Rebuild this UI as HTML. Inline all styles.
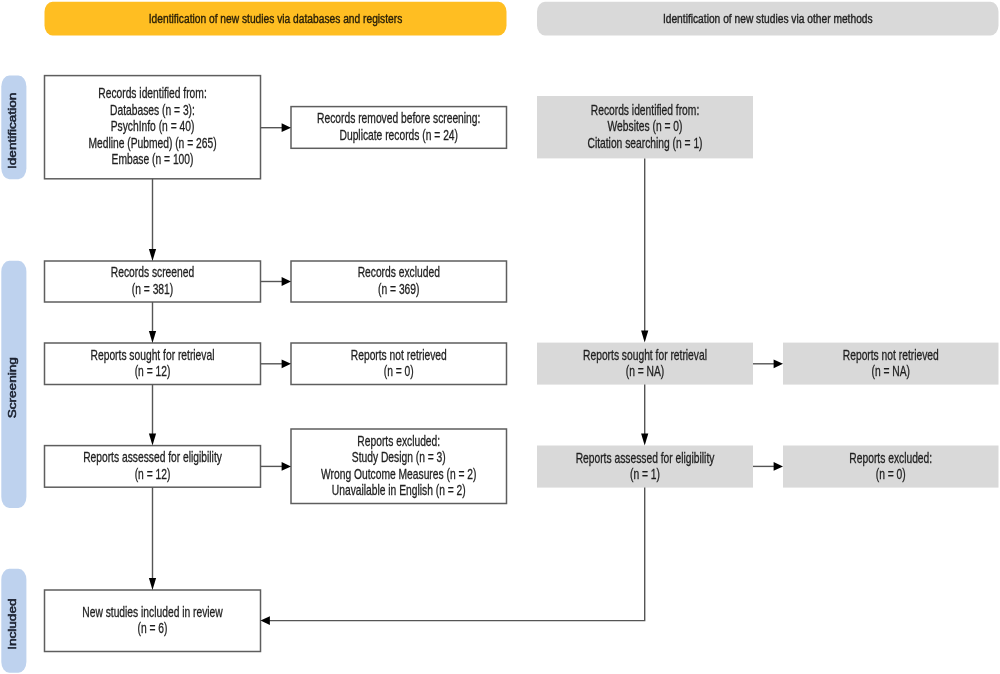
<!DOCTYPE html>
<html><head><meta charset="utf-8"><style>
html,body{margin:0;padding:0;background:#fff;width:1000px;height:674px;overflow:hidden}
svg{display:block;font-family:"Liberation Sans",sans-serif;will-change:transform}
</style></head><body>
<svg width="1000" height="674" viewBox="0 0 1000 674">
<rect x="44.5" y="1.8" width="462" height="33.7" rx="8" ry="10" fill="#ffbe22"/>
<rect x="537" y="1.8" width="461.5" height="33.7" rx="8" ry="10" fill="#d9d9d9"/>
<text transform="matrix(0.758,0,0,1,275.5,22.9)" x="0" y="0" text-anchor="middle" font-size="13.5" fill="#2a2008" font-weight="normal" stroke="#2a2008" stroke-width="0.4">Identification of new studies via databases and registers</text>
<text transform="matrix(0.758,0,0,1,767.75,22.9)" x="0" y="0" text-anchor="middle" font-size="13.5" fill="#1f1f1f" font-weight="normal" stroke="#1f1f1f" stroke-width="0.4">Identification of new studies via other methods</text>
<rect x="1.3" y="75.6" width="25.1" height="103.70000000000002" rx="8" ry="11" fill="#bed2ee"/>
<text transform="translate(16.0,130.85) rotate(-90) scale(1,0.75)" x="0" y="0" text-anchor="middle" font-size="13.6" fill="#1c2230" stroke="#1c2230" stroke-width="0.7">Identification</text>
<rect x="1.3" y="260.7" width="25.1" height="247.3" rx="8" ry="11" fill="#bed2ee"/>
<text transform="translate(16.0,387.75) rotate(-90) scale(1,0.75)" x="0" y="0" text-anchor="middle" font-size="13.6" fill="#1c2230" stroke="#1c2230" stroke-width="0.7">Screening</text>
<rect x="1.3" y="568.8" width="25.1" height="103.90000000000009" rx="8" ry="11" fill="#bed2ee"/>
<text transform="translate(16.0,624.15) rotate(-90) scale(1,0.75)" x="0" y="0" text-anchor="middle" font-size="13.6" fill="#1c2230" stroke="#1c2230" stroke-width="0.7">Included</text>
<rect x="44.5" y="75.6" width="216.0" height="103.20000000000002" fill="#fff" stroke="#5e5e5e" stroke-width="1.5"/>
<text transform="matrix(0.735,0,0,1,152.5,98.4)" x="0" y="0" text-anchor="middle" font-size="14" fill="#1f1f1f" font-weight="normal" stroke="#1f1f1f" stroke-width="0.3">Records identified from:</text>
<text transform="matrix(0.735,0,0,1,152.5,114.9)" x="0" y="0" text-anchor="middle" font-size="14" fill="#1f1f1f" font-weight="normal" stroke="#1f1f1f" stroke-width="0.3">Databases (n = 3):</text>
<text transform="matrix(0.735,0,0,1,152.5,131.4)" x="0" y="0" text-anchor="middle" font-size="14" fill="#1f1f1f" font-weight="normal" stroke="#1f1f1f" stroke-width="0.3">PsychInfo (n = 40)</text>
<text transform="matrix(0.735,0,0,1,152.5,147.89999999999998)" x="0" y="0" text-anchor="middle" font-size="14" fill="#1f1f1f" font-weight="normal" stroke="#1f1f1f" stroke-width="0.3">Medline (Pubmed) (n = 265)</text>
<text transform="matrix(0.735,0,0,1,152.5,164.39999999999998)" x="0" y="0" text-anchor="middle" font-size="14" fill="#1f1f1f" font-weight="normal" stroke="#1f1f1f" stroke-width="0.3">Embase (n = 100)</text>
<rect x="44.5" y="261" width="216.0" height="41" fill="#fff" stroke="#5e5e5e" stroke-width="1.5"/>
<text transform="matrix(0.735,0,0,1,152.5,277.45)" x="0" y="0" text-anchor="middle" font-size="14" fill="#1f1f1f" font-weight="normal" stroke="#1f1f1f" stroke-width="0.3">Records screened</text>
<text transform="matrix(0.735,0,0,1,152.5,293.95)" x="0" y="0" text-anchor="middle" font-size="14" fill="#1f1f1f" font-weight="normal" stroke="#1f1f1f" stroke-width="0.3">(n = 381)</text>
<rect x="44.5" y="343" width="216.0" height="41.5" fill="#fff" stroke="#5e5e5e" stroke-width="1.5"/>
<text transform="matrix(0.735,0,0,1,152.5,359.7)" x="0" y="0" text-anchor="middle" font-size="14" fill="#1f1f1f" font-weight="normal" stroke="#1f1f1f" stroke-width="0.3">Reports sought for retrieval</text>
<text transform="matrix(0.735,0,0,1,152.5,376.2)" x="0" y="0" text-anchor="middle" font-size="14" fill="#1f1f1f" font-weight="normal" stroke="#1f1f1f" stroke-width="0.3">(n = 12)</text>
<rect x="44.5" y="445.6" width="216.0" height="41.599999999999966" fill="#fff" stroke="#5e5e5e" stroke-width="1.5"/>
<text transform="matrix(0.735,0,0,1,152.5,462.34999999999997)" x="0" y="0" text-anchor="middle" font-size="14" fill="#1f1f1f" font-weight="normal" stroke="#1f1f1f" stroke-width="0.3">Reports assessed for eligibility</text>
<text transform="matrix(0.735,0,0,1,152.5,478.84999999999997)" x="0" y="0" text-anchor="middle" font-size="14" fill="#1f1f1f" font-weight="normal" stroke="#1f1f1f" stroke-width="0.3">(n = 12)</text>
<rect x="44.5" y="590" width="216.0" height="61.5" fill="#fff" stroke="#5e5e5e" stroke-width="1.5"/>
<text transform="matrix(0.735,0,0,1,152.5,616.7)" x="0" y="0" text-anchor="middle" font-size="14" fill="#1f1f1f" font-weight="normal" stroke="#1f1f1f" stroke-width="0.3">New studies included in review</text>
<text transform="matrix(0.735,0,0,1,152.5,633.2)" x="0" y="0" text-anchor="middle" font-size="14" fill="#1f1f1f" font-weight="normal" stroke="#1f1f1f" stroke-width="0.3">(n = 6)</text>
<rect x="291" y="106.6" width="215.5" height="41.70000000000002" fill="#fff" stroke="#5e5e5e" stroke-width="1.5"/>
<text transform="matrix(0.735,0,0,1,398.75,123.4)" x="0" y="0" text-anchor="middle" font-size="14" fill="#1f1f1f" font-weight="normal" stroke="#1f1f1f" stroke-width="0.3">Records removed before screening:</text>
<text transform="matrix(0.735,0,0,1,398.75,139.89999999999998)" x="0" y="0" text-anchor="middle" font-size="14" fill="#1f1f1f" font-weight="normal" stroke="#1f1f1f" stroke-width="0.3">Duplicate records (n = 24)</text>
<rect x="291" y="261" width="215.5" height="41" fill="#fff" stroke="#5e5e5e" stroke-width="1.5"/>
<text transform="matrix(0.735,0,0,1,398.75,277.45)" x="0" y="0" text-anchor="middle" font-size="14" fill="#1f1f1f" font-weight="normal" stroke="#1f1f1f" stroke-width="0.3">Records excluded</text>
<text transform="matrix(0.735,0,0,1,398.75,293.95)" x="0" y="0" text-anchor="middle" font-size="14" fill="#1f1f1f" font-weight="normal" stroke="#1f1f1f" stroke-width="0.3">(n = 369)</text>
<rect x="291" y="343" width="215.5" height="41.5" fill="#fff" stroke="#5e5e5e" stroke-width="1.5"/>
<text transform="matrix(0.735,0,0,1,398.75,359.7)" x="0" y="0" text-anchor="middle" font-size="14" fill="#1f1f1f" font-weight="normal" stroke="#1f1f1f" stroke-width="0.3">Reports not retrieved</text>
<text transform="matrix(0.735,0,0,1,398.75,376.2)" x="0" y="0" text-anchor="middle" font-size="14" fill="#1f1f1f" font-weight="normal" stroke="#1f1f1f" stroke-width="0.3">(n = 0)</text>
<rect x="291" y="429" width="215.5" height="74.5" fill="#fff" stroke="#5e5e5e" stroke-width="1.5"/>
<text transform="matrix(0.735,0,0,1,398.75,445.7)" x="0" y="0" text-anchor="middle" font-size="14" fill="#1f1f1f" font-weight="normal" stroke="#1f1f1f" stroke-width="0.3">Reports excluded:</text>
<text transform="matrix(0.735,0,0,1,398.75,462.2)" x="0" y="0" text-anchor="middle" font-size="14" fill="#1f1f1f" font-weight="normal" stroke="#1f1f1f" stroke-width="0.3">Study Design (n = 3)</text>
<text transform="matrix(0.735,0,0,1,398.75,478.7)" x="0" y="0" text-anchor="middle" font-size="14" fill="#1f1f1f" font-weight="normal" stroke="#1f1f1f" stroke-width="0.3">Wrong Outcome Measures (n = 2)</text>
<text transform="matrix(0.735,0,0,1,398.75,495.2)" x="0" y="0" text-anchor="middle" font-size="14" fill="#1f1f1f" font-weight="normal" stroke="#1f1f1f" stroke-width="0.3">Unavailable in English (n = 2)</text>
<rect x="537" y="96" width="216" height="62.400000000000006" fill="#d9d9d9"/>
<text transform="matrix(0.735,0,0,1,645.0,114.9)" x="0" y="0" text-anchor="middle" font-size="14" fill="#1f1f1f" font-weight="normal" stroke="#1f1f1f" stroke-width="0.3">Records identified from:</text>
<text transform="matrix(0.735,0,0,1,645.0,131.4)" x="0" y="0" text-anchor="middle" font-size="14" fill="#1f1f1f" font-weight="normal" stroke="#1f1f1f" stroke-width="0.3">Websites (n = 0)</text>
<text transform="matrix(0.735,0,0,1,645.0,147.89999999999998)" x="0" y="0" text-anchor="middle" font-size="14" fill="#1f1f1f" font-weight="normal" stroke="#1f1f1f" stroke-width="0.3">Citation searching (n = 1)</text>
<rect x="537" y="342.6" width="216" height="42.0" fill="#d9d9d9"/>
<text transform="matrix(0.735,0,0,1,645.0,359.55)" x="0" y="0" text-anchor="middle" font-size="14" fill="#1f1f1f" font-weight="normal" stroke="#1f1f1f" stroke-width="0.3">Reports sought for retrieval</text>
<text transform="matrix(0.735,0,0,1,645.0,376.05)" x="0" y="0" text-anchor="middle" font-size="14" fill="#1f1f1f" font-weight="normal" stroke="#1f1f1f" stroke-width="0.3">(n = NA)</text>
<rect x="537" y="445.5" width="216" height="42.10000000000002" fill="#d9d9d9"/>
<text transform="matrix(0.735,0,0,1,645.0,462.5)" x="0" y="0" text-anchor="middle" font-size="14" fill="#1f1f1f" font-weight="normal" stroke="#1f1f1f" stroke-width="0.3">Reports assessed for eligibility</text>
<text transform="matrix(0.735,0,0,1,645.0,479.0)" x="0" y="0" text-anchor="middle" font-size="14" fill="#1f1f1f" font-weight="normal" stroke="#1f1f1f" stroke-width="0.3">(n = 1)</text>
<rect x="783" y="342.6" width="215.5" height="42.0" fill="#d9d9d9"/>
<text transform="matrix(0.735,0,0,1,890.75,359.55)" x="0" y="0" text-anchor="middle" font-size="14" fill="#1f1f1f" font-weight="normal" stroke="#1f1f1f" stroke-width="0.3">Reports not retrieved</text>
<text transform="matrix(0.735,0,0,1,890.75,376.05)" x="0" y="0" text-anchor="middle" font-size="14" fill="#1f1f1f" font-weight="normal" stroke="#1f1f1f" stroke-width="0.3">(n = NA)</text>
<rect x="783" y="445.5" width="215.5" height="42.10000000000002" fill="#d9d9d9"/>
<text transform="matrix(0.735,0,0,1,890.75,462.5)" x="0" y="0" text-anchor="middle" font-size="14" fill="#1f1f1f" font-weight="normal" stroke="#1f1f1f" stroke-width="0.3">Reports excluded:</text>
<text transform="matrix(0.735,0,0,1,890.75,479.0)" x="0" y="0" text-anchor="middle" font-size="14" fill="#1f1f1f" font-weight="normal" stroke="#1f1f1f" stroke-width="0.3">(n = 0)</text>
<line x1="260.5" y1="127.7" x2="283" y2="127.7" stroke="#555" stroke-width="1.4"/>
<path d="M291,127.7 L281.6,123.3 L281.6,132.1 Z" fill="#000"/>
<line x1="260.5" y1="281.5" x2="283" y2="281.5" stroke="#555" stroke-width="1.4"/>
<path d="M291,281.5 L281.6,277.1 L281.6,285.9 Z" fill="#000"/>
<line x1="260.5" y1="363.8" x2="283" y2="363.8" stroke="#555" stroke-width="1.4"/>
<path d="M291,363.8 L281.6,359.40000000000003 L281.6,368.2 Z" fill="#000"/>
<line x1="260.5" y1="466.4" x2="283" y2="466.4" stroke="#555" stroke-width="1.4"/>
<path d="M291,466.4 L281.6,462.0 L281.6,470.79999999999995 Z" fill="#000"/>
<line x1="753" y1="363.8" x2="775" y2="363.8" stroke="#555" stroke-width="1.4"/>
<path d="M783,363.8 L773.6,359.40000000000003 L773.6,368.2 Z" fill="#000"/>
<line x1="753" y1="466.4" x2="775" y2="466.4" stroke="#555" stroke-width="1.4"/>
<path d="M783,466.4 L773.6,462.0 L773.6,470.79999999999995 Z" fill="#000"/>
<line x1="152.5" y1="178.8" x2="152.5" y2="251" stroke="#555" stroke-width="1.4"/>
<path d="M152.5,261 L148.9,249 L156.1,249 Z" fill="#000"/>
<line x1="152.5" y1="302" x2="152.5" y2="333" stroke="#555" stroke-width="1.4"/>
<path d="M152.5,343 L148.9,331 L156.1,331 Z" fill="#000"/>
<line x1="152.5" y1="384.5" x2="152.5" y2="435.6" stroke="#555" stroke-width="1.4"/>
<path d="M152.5,445.6 L148.9,433.6 L156.1,433.6 Z" fill="#000"/>
<line x1="152.5" y1="487.2" x2="152.5" y2="580" stroke="#555" stroke-width="1.4"/>
<path d="M152.5,590 L148.9,578 L156.1,578 Z" fill="#000"/>
<line x1="644.7" y1="158.4" x2="644.7" y2="332.6" stroke="#555" stroke-width="1.4"/>
<path d="M644.7,342.6 L641.1,330.6 L648.3000000000001,330.6 Z" fill="#000"/>
<line x1="644.7" y1="384.6" x2="644.7" y2="435.5" stroke="#555" stroke-width="1.4"/>
<path d="M644.7,445.5 L641.1,433.5 L648.3000000000001,433.5 Z" fill="#000"/>
<polyline points="644.7,487.6 644.7,620.6 268,620.6" fill="none" stroke="#555" stroke-width="1.4"/>
<path d="M260.5,620.6 L269.9,616.2 L269.9,625.0 Z" fill="#000"/>
</svg>
</body></html>
